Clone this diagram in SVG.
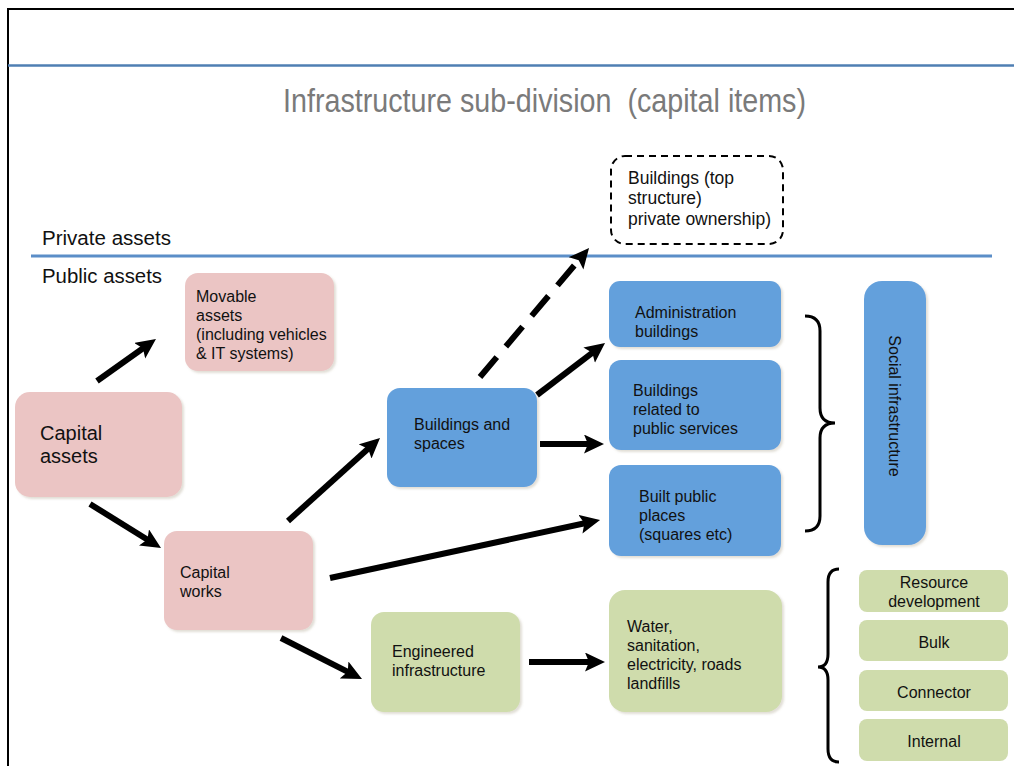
<svg xmlns="http://www.w3.org/2000/svg" width="1014" height="766" viewBox="0 0 1014 766">
<style>
.t{font-family:"Liberation Sans",Arial,sans-serif;font-size:16px;fill:#111}
.c{font-family:"Liberation Sans",Arial,sans-serif;font-size:16px;fill:#111;text-anchor:middle}
.lbl{font-family:"Liberation Sans",Arial,sans-serif;font-size:19.5px;fill:#111}
.pink{fill:#ebc5c4}
.blue{fill:#64a0dc}
.green{fill:#cfdcac}
.arr{stroke:#000;stroke-width:6;fill:none;marker-end:url(#ah)}
.brace{stroke:#000;stroke-width:3;fill:none}
</style>
<defs>
<filter id="sh" x="-10%" y="-10%" width="130%" height="130%">
<feDropShadow dx="2" dy="2" stdDeviation="1.2" flood-color="#8a7a5a" flood-opacity="0.25"/>
</filter>
<marker id="ah" markerUnits="userSpaceOnUse" markerWidth="22" markerHeight="20" refX="8" refY="9.5" orient="auto">
<path d="M0,0 L20,9.5 L0,19 L4,9.5 z" fill="#000"/>
</marker>
</defs>
<rect width="1014" height="766" fill="#fff"/>
<path d="M8,800 L8,9 L1020,9" fill="none" stroke="#000" stroke-width="2"/>
<line x1="8" y1="65.5" x2="1014" y2="65.5" stroke="#4f7fb3" stroke-width="2.5"/>
<text x="283" y="112" xml:space="preserve" style="white-space:pre" font-family="'Liberation Sans',Arial,sans-serif" font-size="33" fill="#7a7a7a" textLength="523" lengthAdjust="spacingAndGlyphs">Infrastructure sub-division  (capital items)</text>
<text class="lbl" x="42" y="245" textLength="129" lengthAdjust="spacingAndGlyphs">Private assets</text>
<line x1="31" y1="256" x2="992" y2="256" stroke="#5b8ec8" stroke-width="3"/>
<text class="lbl" x="42" y="283" textLength="120" lengthAdjust="spacingAndGlyphs">Public assets</text>

<g id="connectors">
<line class="arr" x1="97" y1="381" x2="146.2" y2="346"/>
<line class="arr" x1="90" y1="504" x2="150.8" y2="541.7"/>
<line class="arr" x1="288" y1="521" x2="371.1" y2="446"/>
<line class="arr" x1="480" y1="377" x2="581.3" y2="257.2" stroke-dasharray="26 14"/>
<line class="arr" x1="537" y1="395" x2="595.5" y2="350.3"/>
<line class="arr" x1="540" y1="444" x2="592" y2="444"/>
<line class="arr" x1="330" y1="578" x2="588.3" y2="522.5"/>
<line class="arr" x1="281" y1="638" x2="351.3" y2="673.6"/>
<line class="arr" x1="529" y1="662" x2="593" y2="662"/>
<path class="brace" d="M805,316 Q820,316 820,331 L820,408 Q820,423 835,423 Q820,423 820,438 L820,516 Q820,531 805,531"/>
<path class="brace" d="M839,569 Q828,569 828,582 L828,654 Q828,667 818,667 Q828,667 828,680 L828,749 Q828,762 839,762"/>
</g>

<g id="private-buildings">
<rect x="611" y="156" width="172" height="88" rx="14" fill="#fff" stroke="#000" stroke-width="2" stroke-dasharray="7 5"/>
<text class="t" x="628" y="184" style="font-size:17.5px">Buildings (top</text>
<text class="t" x="628" y="204" style="font-size:17.5px">structure)</text>
<text class="t" x="628" y="225" style="font-size:17.5px">private ownership)</text>
</g>

<g id="movable-assets">
<rect class="pink" x="185" y="273" width="149" height="98" rx="13" filter="url(#sh)"/>
<text class="t" x="196" y="302">Movable</text>
<text class="t" x="196" y="321">assets</text>
<text class="t" x="196" y="340">(including vehicles</text>
<text class="t" x="196" y="359">&amp; IT systems)</text>
</g>

<g id="capital-assets">
<rect class="pink" x="15" y="392" width="167" height="105" rx="15" filter="url(#sh)"/>
<text class="t" x="40" y="440" style="font-size:20px">Capital</text>
<text class="t" x="40" y="463" style="font-size:20px">assets</text>
</g>

<g id="capital-works">
<rect class="pink" x="164" y="531" width="149" height="99" rx="13" filter="url(#sh)"/>
<text class="t" x="180" y="578">Capital</text>
<text class="t" x="180" y="597">works</text>
</g>

<g id="buildings-spaces">
<rect class="blue" x="387" y="388" width="150" height="99" rx="13" filter="url(#sh)"/>
<text class="t" x="414" y="430">Buildings and</text>
<text class="t" x="414" y="449">spaces</text>
</g>

<g id="engineered">
<rect class="green" x="371" y="612" width="149" height="100" rx="13" filter="url(#sh)"/>
<text class="t" x="392" y="657">Engineered</text>
<text class="t" x="392" y="676">infrastructure</text>
</g>

<g id="admin">
<rect class="blue" x="609" y="281" width="172" height="66" rx="11" filter="url(#sh)"/>
<text class="t" x="635" y="318">Administration</text>
<text class="t" x="635" y="337">buildings</text>
</g>

<g id="public-services">
<rect class="blue" x="609" y="360" width="172" height="90" rx="12" filter="url(#sh)"/>
<text class="t" x="633" y="396">Buildings</text>
<text class="t" x="633" y="415">related to</text>
<text class="t" x="633" y="434">public services</text>
</g>

<g id="public-places">
<rect class="blue" x="609" y="465" width="172" height="91" rx="12" filter="url(#sh)"/>
<text class="t" x="639" y="502">Built public</text>
<text class="t" x="639" y="521">places</text>
<text class="t" x="639" y="540">(squares etc)</text>
</g>

<g id="water">
<rect class="green" x="609" y="590" width="173" height="122" rx="16" filter="url(#sh)"/>
<text class="t" x="627" y="632">Water,</text>
<text class="t" x="627" y="651">sanitation,</text>
<text class="t" x="627" y="670">electricity, roads</text>
<text class="t" x="627" y="689">landfills</text>
</g>

<g id="social">
<rect class="blue" x="864" y="281" width="62" height="264" rx="18" filter="url(#sh)"/>
<text class="c" transform="translate(889,406) rotate(90)" x="0" y="0">Social infrastructure</text>
</g>

<g id="resource-dev">
<rect class="green" x="859" y="570" width="149" height="42" rx="8"/>
<text class="c" x="934" y="588">Resource</text>
<text class="c" x="934" y="607">development</text>
</g>
<g id="bulk">
<rect class="green" x="859" y="620" width="149" height="41" rx="8"/>
<text class="c" x="934" y="648">Bulk</text>
</g>
<g id="connector">
<rect class="green" x="859" y="670" width="149" height="41" rx="8"/>
<text class="c" x="934" y="698">Connector</text>
</g>
<g id="internal">
<rect class="green" x="859" y="719" width="149" height="42" rx="8"/>
<text class="c" x="934" y="747">Internal</text>
</g>
</svg>
